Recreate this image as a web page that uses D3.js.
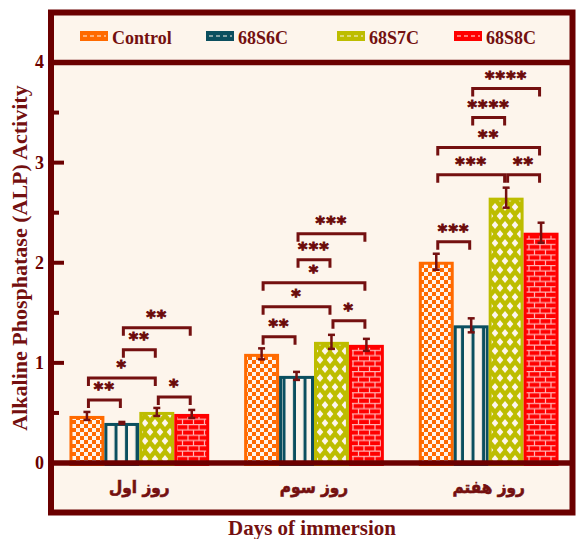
<!DOCTYPE html>
<html>
<head>
<meta charset="utf-8">
<script src="https://cdn.jsdelivr.net/npm/d3@7"></script>
<style>
  html, body { margin: 0; padding: 0; background: #ffffff; }
  svg { display: block; }
  text { font-family: "Liberation Serif", "Times New Roman", serif; font-weight: bold; }
</style>
</head>
<body>
<div id="chart"></div>
<script>
// چارت فعالیت ALP
const categories = ['روز اول', 'روز سوم', 'روز هفتم'];
const seriesNames = ['Control', '68S6C', '68S7C', '68S8C'];
const controlValues = [0.47, 1.09, 2.01];
const s6cValues = [0.40, 0.87, 1.375];
const s7cValues = [0.51, 1.21, 2.65];
const s8cValues = [0.49, 1.18, 2.30];
const controlErr = [0.04, 0.055, 0.08];
const s6cErr = [0.01, 0.04, 0.07];
const s7cErr = [0.04, 0.07, 0.10];
const s8cErr = [0.04, 0.06, 0.10];
const yTicks = [0, 1, 2, 3, 4];
const yMinorTicks = [0.5, 1.5, 2.5, 3.5];

// significance brackets: [group, from series, to series, level, label]
const comparisons = [
    [0, 0, 1, 0.63, '**'],
    [0, 0, 2, 0.85, '*'],
    [0, 1, 2, 1.13, '**'],
    [0, 1, 3, 1.35, '**'],
    [0, 2, 3, 0.66, '*'],
    [1, 0, 1, 1.26, '**'],
    [1, 0, 2, 1.56, '*'],
    [1, 0, 3, 1.80, '*'],
    [1, 1, 2, 2.03, '***'],
    [1, 1, 3, 2.29, '***'],
    [1, 2, 3, 1.42, '*'],
    [2, 0, 1, 2.21, '***'],
    [2, 0, 2, 2.88, '***'],
    [2, 2, 3, 2.88, '**'],
    [2, 0, 3, 3.15, '**'],
    [2, 1, 2, 3.45, '****'],
    [2, 1, 3, 3.74, '****']
];

const seriesValues = [controlValues, s6cValues, s7cValues, s8cValues];
const seriesErr = [controlErr, s6cErr, s7cErr, s8cErr];
const colors = ['#ff6a00', '#0b4f5f', '#bdbd00', '#ff0000'];
const cream = '#fdf5ec';
const frameColor = '#6b0000';
const inkColor = '#741010';

const width = 576, height = 539;
const frame = { left: 51, right: 572.5, top: 12.5, bottom: 512.5 };

const svg = d3.select('#chart').append('svg')
    .attr('width', width)
    .attr('height', height);

const defs = svg.append('defs');

// Control: checkerboard
const pCheck = defs.append('pattern').attr('id', 'pat-0')
    .attr('patternUnits', 'userSpaceOnUse').attr('width', 8).attr('height', 8);
pCheck.append('rect').attr('width', 8).attr('height', 8).attr('fill', colors[0]);
pCheck.append('rect').attr('width', 4).attr('height', 4).attr('fill', cream);
pCheck.append('rect').attr('x', 4).attr('y', 4).attr('width', 4).attr('height', 4).attr('fill', cream);

// 68S6C: vertical stripes
const pStripe = defs.append('pattern').attr('id', 'pat-1')
    .attr('patternUnits', 'userSpaceOnUse').attr('width', 10.5).attr('height', 10)
    .attr('x', 2);
pStripe.append('rect').attr('width', 10.5).attr('height', 10).attr('fill', cream);
pStripe.append('rect').attr('x', 7.5).attr('width', 3).attr('height', 10).attr('fill', colors[1]);

// 68S7C: diamonds
const pDiamond = defs.append('pattern').attr('id', 'pat-2')
    .attr('patternUnits', 'userSpaceOnUse').attr('width', 10).attr('height', 18);
pDiamond.append('rect').attr('width', 10).attr('height', 18).attr('fill', colors[2]);
[[0, 0], [10, 0], [0, 18], [10, 18], [5, 9]].forEach(([cx, cy]) => {
    pDiamond.append('path')
        .attr('d', `M${cx},${cy - 4}L${cx + 3.3},${cy}L${cx},${cy + 4}L${cx - 3.3},${cy}Z`)
        .attr('fill', cream);
});

// 68S8C: bricks
const pBrick = defs.append('pattern').attr('id', 'pat-3')
    .attr('patternUnits', 'userSpaceOnUse').attr('width', 11).attr('height', 10.6);
pBrick.append('rect').attr('width', 11).attr('height', 10.6).attr('fill', colors[3]);
pBrick.append('path')
    .attr('d', 'M0,0.6H11M0,5.9H11M1,0.6V5.9M6.5,5.9V10.6')
    .attr('stroke', '#ffb4b4').attr('stroke-width', 1.2).attr('fill', 'none');

// background of frame
svg.append('rect')
    .attr('x', frame.left).attr('y', frame.top)
    .attr('width', frame.right - frame.left).attr('height', frame.bottom - frame.top)
    .attr('fill', cream);

const y = d3.scaleLinear().domain([0, 4]).range([463, 62.5]);
const x0 = d3.scaleBand().domain(categories).range([52, 576]).paddingInner(0.2).paddingOuter(0.1);
const x1 = d3.scaleBand().domain(seriesNames).range([0, x0.bandwidth()]);

const barCenter = (g, s) => x0(categories[g]) + x1(seriesNames[s]) + x1.bandwidth() / 2;

// bars
const barData = [];
categories.forEach((cat, g) => {
    seriesNames.forEach((name, s) => {
        barData.push({ g, s, value: seriesValues[s][g], err: seriesErr[s][g] });
    });
});

svg.append('g').selectAll('rect')
    .data(barData)
    .enter()
    .append('rect')
    .attr('x', d => x0(categories[d.g]) + x1(seriesNames[d.s]) + 1.5)
    .attr('y', d => y(d.value) + 1.5)
    .attr('width', x1.bandwidth() - 3)
    .attr('height', d => y(0) - y(d.value))
    .attr('fill', d => `url(#pat-${d.s})`)
    .attr('stroke', d => colors[d.s])
    .attr('stroke-width', 3);

// error bars
const errG = svg.append('g')
    .attr('stroke', inkColor)
    .attr('stroke-width', 2.5);
barData.forEach(d => {
    const cx = barCenter(d.g, d.s);
    const top = y(d.value + d.err), bot = y(d.value - d.err);
    errG.append('line').attr('x1', cx).attr('x2', cx).attr('y1', top).attr('y2', bot);
    errG.append('line').attr('x1', cx - 3.5).attr('x2', cx + 3.5).attr('y1', top).attr('y2', top);
    errG.append('line').attr('x1', cx - 3.5).attr('x2', cx + 3.5).attr('y1', bot).attr('y2', bot);
});

// significance brackets
const sigG = svg.append('g');
comparisons.forEach(([g, a, b, level, label]) => {
    const xa = barCenter(g, a) + 1.5;
    const xb = barCenter(g, b) - 1.5;
    const ly = y(level);
    sigG.append('path')
        .attr('d', `M${xa},${ly + 8}V${ly}H${xb}V${ly + 8}`)
        .attr('fill', 'none')
        .attr('stroke', inkColor)
        .attr('stroke-width', 3);
    sigG.append('text')
        .attr('x', (xa + xb) / 2)
        .attr('y', ly - 4.5)
        .attr('text-anchor', 'middle')
        .attr('font-size', 18)
        .attr('letter-spacing', 1.2)
        .style('font-family', '"DejaVu Sans", sans-serif')
        .attr('fill', '#6b0a0a')
        .attr('stroke', '#6b0a0a')
        .attr('stroke-width', 0.9)
        .text(label);
});

// frame, legend divider and x axis line
svg.append('rect')
    .attr('x', frame.left).attr('y', frame.top)
    .attr('width', frame.right - frame.left).attr('height', frame.bottom - frame.top)
    .attr('fill', 'none')
    .attr('stroke', frameColor)
    .attr('stroke-width', 6);

[y(4), y(0)].forEach(ly => {
    svg.append('line')
        .attr('x1', frame.left).attr('x2', frame.right)
        .attr('y1', ly).attr('y2', ly)
        .attr('stroke', frameColor)
        .attr('stroke-width', 5.5);
});

// y axis ticks
const tickG = svg.append('g').attr('stroke', frameColor).attr('stroke-width', 4);
yTicks.forEach(t => {
    tickG.append('line').attr('x1', 52).attr('x2', 64).attr('y1', y(t)).attr('y2', y(t));
});
yMinorTicks.forEach(t => {
    tickG.append('line').attr('x1', 52).attr('x2', 59).attr('y1', y(t)).attr('y2', y(t));
});

svg.append('g').selectAll('text')
    .data(yTicks)
    .enter()
    .append('text')
    .attr('x', 44)
    .attr('y', d => y(d))
    .attr('dy', '0.33em')
    .attr('text-anchor', 'end')
    .attr('font-size', 18)
    .attr('fill', frameColor)
    .text(d => d);

// y title
svg.append('text')
    .attr('transform', 'translate(27, 258) rotate(-90)')
    .attr('text-anchor', 'middle')
    .attr('font-size', 22)
    .attr('fill', inkColor)
    .text('Alkaline Phosphatase (ALP) Activity');

// category labels
svg.append('g').selectAll('text')
    .data(categories)
    .enter()
    .append('text')
    .attr('x', d => x0(d) + x0.bandwidth() / 2)
    .attr('y', 493)
    .attr('text-anchor', 'middle')
    .attr('direction', 'rtl')
    .attr('font-size', 17)
    .style('font-family', '"DejaVu Sans Condensed", "DejaVu Sans", sans-serif')
    .attr('fill', inkColor)
    .attr('stroke', inkColor)
    .attr('stroke-width', 0.6)
    .text(d => d);

// x title
svg.append('text')
    .attr('x', 312)
    .attr('y', 535)
    .attr('text-anchor', 'middle')
    .attr('font-size', 21)
    .attr('fill', inkColor)
    .text('Days of immersion');

// legend
const legendX = [80, 206, 337, 454];
const legend = svg.append('g');
seriesNames.forEach((name, i) => {
    const item = legend.append('g').attr('transform', `translate(${legendX[i]}, 31)`);
    item.append('rect')
        .attr('width', 28).attr('height', 10)
        .attr('fill', colors[i]);
    item.append('line')
        .attr('x1', 3).attr('x2', 26).attr('y1', 5).attr('y2', 5)
        .attr('stroke', cream).attr('stroke-width', 1.2)
        .attr('stroke-dasharray', '4,3');
    item.append('text')
        .attr('x', 32).attr('y', 13)
        .attr('font-size', 18)
        .attr('fill', inkColor)
        .text(name);
});
</script>
</body>
</html>
